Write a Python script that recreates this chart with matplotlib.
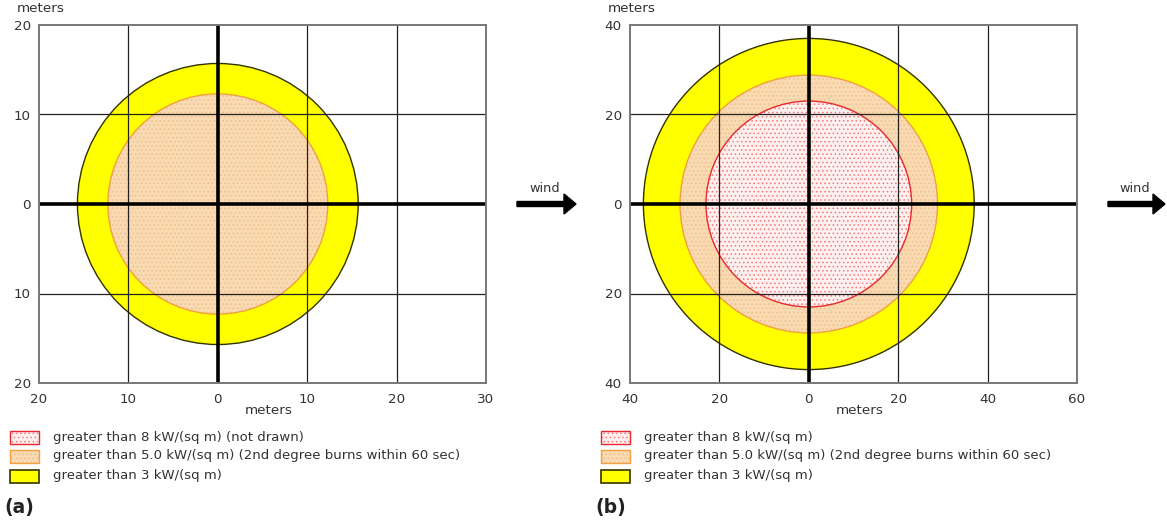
import matplotlib
matplotlib.use("Agg")
import matplotlib.pyplot as plt
from matplotlib.patches import Circle, Rectangle, FancyArrow

plt.rcParams["font.family"] = ["DejaVu Sans"]
plt.rcParams["hatch.linewidth"] = 0.6

# Threat zone radii (meters), outermost first
zone_names = ["3 kW", "5 kW", "8 kW"]
radii_a = [15.7, 12.3]          # 8 kW zone not drawn
radii_b = [37.0, 28.8, 23.0]

# Axis ranges and ticks
xlim_a, ylim_a = (-20, 30), (-20, 20)
xlim_b, ylim_b = (-40, 60), (-40, 40)
xticks_a = [-20, -10, 0, 10, 20, 30]
xlabels_a = ["20", "10", "0", "10", "20", "30"]
yticks_a = [-20, -10, 0, 10, 20]
ylabels_a = ["20", "10", "0", "10", "20"]
xticks_b = [-40, -20, 0, 20, 40, 60]
xlabels_b = ["40", "20", "0", "20", "40", "60"]
yticks_b = [-40, -20, 0, 20, 40]
ylabels_b = ["40", "20", "0", "20", "40"]

legend_a = ["greater than 8 kW/(sq m) (not drawn)",
            "greater than 5.0 kW/(sq m) (2nd degree burns within 60 sec)",
            "greater than 3 kW/(sq m)"]
legend_b = ["greater than 8 kW/(sq m)",
            "greater than 5.0 kW/(sq m) (2nd degree burns within 60 sec)",
            "greater than 3 kW/(sq m)"]

# zone styles: face, hatch colour, outline
styles = {
    "3 kW": dict(face="#ffff00", hatch=None, edge="#333300"),
    "5 kW": dict(face="#f9dab2", hatch="#f0c088", edge="#f0a040"),
    "8 kW": dict(face="#fff0f0", hatch="#f07a7a", edge="#e8282c"),
}

W, H = 1167, 522
fig = plt.figure(figsize=(W / 100, H / 100), dpi=100)


def fx(px):
    return px / W


def fy(py):
    return 1 - py / H


def draw_zone(ax, r, name):
    st = styles[name]
    if st["hatch"]:
        ax.add_patch(Circle((0, 0), r, facecolor=st["face"], edgecolor=st["hatch"],
                            hatch="....", linewidth=0, zorder=1))
        ax.add_patch(Circle((0, 0), r, facecolor="none", edgecolor=st["edge"],
                            linewidth=1.0, zorder=1.5))
    else:
        ax.add_patch(Circle((0, 0), r, facecolor=st["face"], edgecolor=st["edge"],
                            linewidth=1.0, zorder=1))


def legend_patch(x0, y_center, name):
    st = styles[name]
    w, h = 29 / W, 13 / H
    y0 = fy(y_center) - h / 2
    if st["hatch"]:
        fig.patches.append(Rectangle((x0, y0), w, h, transform=fig.transFigure,
                                     facecolor=st["face"], edgecolor=st["hatch"],
                                     hatch="....", linewidth=0))
        fig.patches.append(Rectangle((x0, y0), w, h, transform=fig.transFigure,
                                     facecolor="none", edgecolor=st["edge"], linewidth=1.0))
    else:
        fig.patches.append(Rectangle((x0, y0), w, h, transform=fig.transFigure,
                                     facecolor=st["face"], edgecolor=st["edge"], linewidth=1.2))


def panel(left_px, right_px, xlim, ylim, xticks, xlabels, yticks, ylabels,
          radii, names, legend_texts, tag, wind_x0, wind_x1):
    top_px, bot_px = 25, 383
    ax = fig.add_axes([fx(left_px), fy(bot_px), fx(right_px - left_px),
                       (bot_px - top_px) / H])
    ax.set_xlim(*xlim)
    ax.set_ylim(*ylim)
    for r, n in zip(radii, names):
        draw_zone(ax, r, n)
    for t in xticks:
        if t == 0:
            ax.axvline(0, color="black", lw=2.6, zorder=3)
        elif xlim[0] < t < xlim[1]:
            ax.axvline(t, color="#222222", lw=0.9, zorder=2)
    for t in yticks:
        if t == 0:
            ax.axhline(0, color="black", lw=2.6, zorder=3)
        elif ylim[0] < t < ylim[1]:
            ax.axhline(t, color="#222222", lw=0.9, zorder=2)
    ax.set_xticks(xticks)
    ax.set_xticklabels(xlabels)
    ax.set_yticks(yticks)
    ax.set_yticklabels(ylabels)
    ax.tick_params(length=0, labelsize=9.7, colors="#333333", pad=6)
    ax.tick_params(axis="x", pad=7)
    for s in ax.spines.values():
        s.set_color("#777777")
        s.set_linewidth(1.4)
        s.set_zorder(4)

    # axis titles
    fig.text(fx(left_px - 22), fy(9), "meters", fontsize=9.7, color="#333333",
             ha="left", va="center")
    fig.text(fx((left_px + right_px) / 2 + 6), fy(411), "meters", fontsize=9.7,
             color="#333333", ha="center", va="center")

    # legend
    rows = [437, 456, 476]
    for y, n, txt in zip(rows, ["8 kW", "5 kW", "3 kW"], legend_texts):
        legend_patch(fx(left_px - 29), y, n)
        fig.text(fx(left_px + 14), fy(y), txt, fontsize=9.5, color="#333333",
                 ha="left", va="center")

    fig.text(fx(left_px - 35), fy(508), tag, fontsize=13.5, fontweight="bold",
             color="#222222", ha="left", va="center")

    # wind direction arrow
    fig.patches.append(FancyArrow(fx(wind_x0), fy(204), fx(wind_x1 - wind_x0), 0,
                                  width=5 / H, head_width=20 / H, head_length=12 / W,
                                  length_includes_head=True, transform=fig.transFigure,
                                  color="black"))
    fig.text(fx((wind_x0 + wind_x1) / 2 - 2), fy(189), "wind", fontsize=9.3,
             color="#333333", ha="center", va="center")
    return ax


panel(39, 486, xlim_a, ylim_a, xticks_a, xlabels_a, yticks_a, ylabels_a,
      radii_a, zone_names[:2], legend_a, "(a)", 517, 576)
panel(630, 1077, xlim_b, ylim_b, xticks_b, xlabels_b, yticks_b, ylabels_b,
      radii_b, zone_names, legend_b, "(b)", 1108, 1165)

fig.savefig("out.png", dpi=100, facecolor="white")
